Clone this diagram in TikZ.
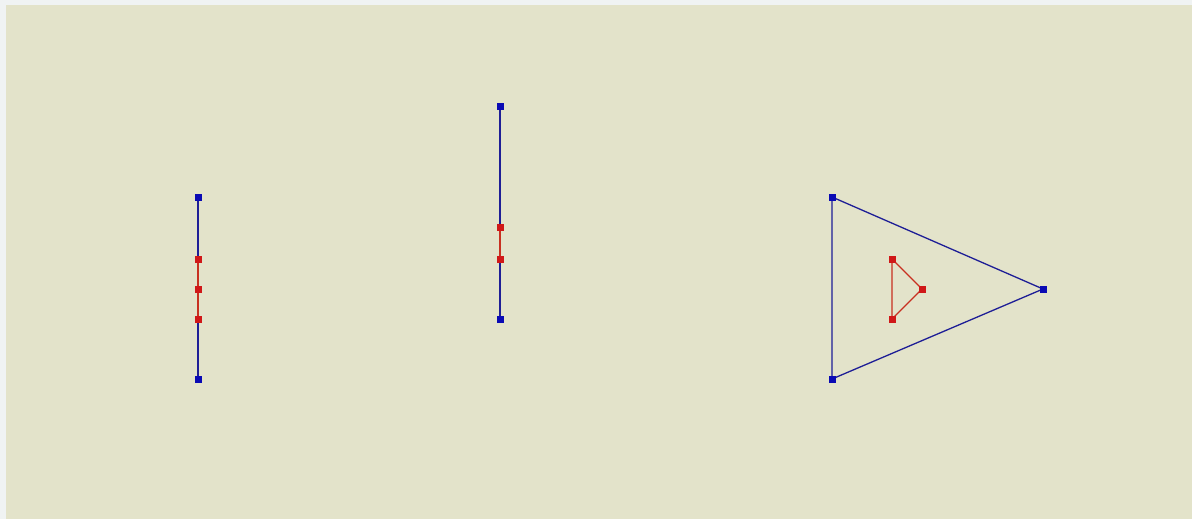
\documentclass[tikz,border=0pt]{standalone}
\begin{document}
\begin{tikzpicture}[x=1pt,y=-1pt,
  bg/.style={fill=bgcol,draw=none},
  bpt/.style={rectangle,fill=ptblue,draw=none,minimum size=7pt,inner sep=0pt},
  rpt/.style={rectangle,fill=ptred,draw=none,minimum size=7pt,inner sep=0pt},
  bline/.style={draw=lnblue,line width=1.3pt},
  rline/.style={draw=lnred,line width=1.3pt}]
\definecolor{bgcol}{HTML}{E3E3CA}
\definecolor{edgecol}{HTML}{F0F3F3}
\definecolor{ptblue}{HTML}{0A0AB4}
\definecolor{ptred}{HTML}{D01818}
\definecolor{lnblue}{HTML}{1E1E96}
\definecolor{lnred}{HTML}{C83020}
\useasboundingbox (0,0) rectangle (1192,519);
\fill[edgecol] (0,0) rectangle (1192,519);
\fill[bgcol] (6,5) rectangle (1192,519);
% left line
\node[bpt] (a1) at (198,197) {};
\node[bpt] (a2) at (198,379) {};
\node[rpt] (a3) at (198,259) {};
\node[rpt] (a4) at (198,289) {};
\node[rpt] (a5) at (198,319) {};
\path[bline] (a1.center) -- (a3.center);
\path[bline] (a5.center) -- (a2.center);
\path[rline] (a3.center) -- (a4.center) -- (a5.center);
\node[bpt] at (a1) {};
\node[bpt] at (a2) {};
\node[rpt] at (a3) {};
\node[rpt] at (a4) {};
\node[rpt] at (a5) {};
% middle line
\node[bpt] (b1) at (500,106) {};
\node[bpt] (b2) at (500,319) {};
\node[rpt] (b3) at (500,227) {};
\node[rpt] (b4) at (500,259) {};
\path[bline] (b1.center) -- (b3.center);
\path[bline] (b4.center) -- (b2.center);
\path[rline] (b3.center) -- (b4.center);
\node[bpt] at (b1) {};
\node[bpt] at (b2) {};
\node[rpt] at (b3) {};
\node[rpt] at (b4) {};
% triangle
\node[bpt] (c1) at (832,197) {};
\node[bpt] (c2) at (1043,289) {};
\node[bpt] (c3) at (832,379) {};
\path[bline] (c1.center) -- (c2.center) -- (c3.center) -- cycle;
\node[rpt] (d1) at (892,259) {};
\node[rpt] (d2) at (922,289) {};
\node[rpt] (d3) at (892,319) {};
\path[rline] (d1.center) -- (d2.center) -- (d3.center) -- cycle;
\node[bpt] at (c1) {};
\node[bpt] at (c2) {};
\node[bpt] at (c3) {};
\node[rpt] at (d1) {};
\node[rpt] at (d2) {};
\node[rpt] at (d3) {};
\end{tikzpicture}
\end{document}
